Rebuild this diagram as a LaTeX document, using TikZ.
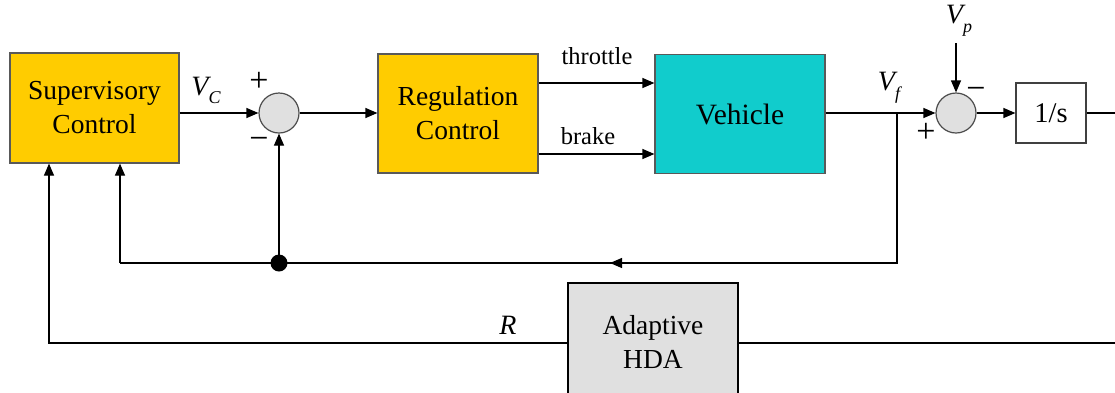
\documentclass[tikz,border=0pt]{standalone}
\usepackage{fontspec}
\setmainfont{Liberation Serif}
\usetikzlibrary{arrows.meta}
\begin{document}
\begin{tikzpicture}[x=1pt,y=-1pt,
  line width=1.2pt,
  sig/.style={-{Triangle[length=12pt,width=10pt]}},
  blk/.style={draw=black!65,inner sep=0pt,align=center,
    font=\fontsize{27.5}{34}\selectfont},
  ctrl/.style={blk,fill=ctrlyellow},
  sumpt/.style={circle,draw=black!70,fill=sumgray,minimum size=40pt,inner sep=0pt},
  lbl/.style={inner sep=0pt,font=\fontsize{24.5}{26}\selectfont},
  sgn/.style={inner sep=0pt,font=\fontsize{34}{34}\selectfont},
  varl/.style={inner sep=0pt,font=\fontsize{28}{28}\selectfont\itshape}
]
\definecolor{ctrlyellow}{HTML}{FFCC00}
\definecolor{vehcyan}{HTML}{11CCCC}
\definecolor{sumgray}{HTML}{E0E0E0}
\clip (0,0) rectangle (1115,392);
\useasboundingbox (0,0) rectangle (1115,392);

% blocks
\node[ctrl,minimum width=169pt,minimum height=110pt] (sup) at (94.5,108) {Supervisory\\Control};
\node[ctrl,minimum width=160pt,minimum height=119pt] (reg) at (458,113.5) {Regulation\\Control};
\node[blk,fill=vehcyan,minimum width=170pt,minimum height=119pt,
      font=\fontsize{29.5}{32}\selectfont] (veh) at (740,114) {Vehicle};
\node[blk,draw=black!75,fill=white,minimum width=70pt,minimum height=60pt,
      font=\fontsize{28.5}{32}\selectfont] (int) at (1051,113) {1/s};
\node[blk,draw=black,fill=sumgray,minimum width=170pt,minimum height=118pt] (hda) at (653,342) {Adaptive\\HDA};

% summing junctions
\node[sumpt] (s1) at (279,113) {};
\node[sumpt] (s2) at (956,113) {};

% branch points and free ends
\coordinate (vfb) at (897,113);
\coordinate (vfc) at (897,263);
\coordinate (fbl) at (120,263);
\coordinate (fbm) at (610,263);
\coordinate (vpin) at (956,43);
\coordinate (out) at (1115,113);
\coordinate (rin) at (1115,343);
\coordinate (rcorner) at (49,343);
\node[circle,fill=black,minimum size=17pt,inner sep=0pt] (dot) at (279,263) {};

% forward path
\draw[sig] (sup.east |- s1) -- (s1.west);
\draw[sig] (s1.east) -- (reg.west |- s1);
\draw[sig] (reg.east |- 0,83) -- (veh.west |- 0,83);
\draw[sig] (reg.east |- 0,154) -- (veh.west |- 0,154);
\draw[sig] (veh.east |- s2) -- (s2.west);
\draw[sig] (vpin) -- (s2.north);
\draw[sig] (s2.east) -- (int.west);
\draw (int.east) -- (out);

% speed feedback loop
\draw (vfb) -- (vfc) -- (fbl);
\draw[sig] (vfc) -- (fbm);
\draw[sig] (fbl) -- (fbl |- sup.south);
\draw[sig] (dot.center) -- (s1.south);

% range path through the adaptive HDA
\draw (rin) -- (hda.east |- rin);
\draw[sig] (hda.west |- rin) -- (rcorner) -- (rcorner |- sup.south);

% labels
\node[lbl] (thr) at (597,56) {throttle};
\node[lbl] (brk) at (588,136) {brake};
\node[varl] (vc) at (206,90) {V\raisebox{-8pt}{\fontsize{18}{18}\selectfont C}};
\node[varl] (vf) at (889,88) {V\raisebox{-9pt}{\fontsize{18}{18}\selectfont f}};
\node[varl] (vp) at (959,21) {V\raisebox{-9pt}{\fontsize{18}{18}\selectfont p}};
\node[varl] (rl) at (508,325) {R};

\node[sgn] (p1) at (259,82) {+};
\node[sgn] (m1) at (259,143) {−};
\node[sgn] (m2) at (976,93) {−};
\node[sgn] (p2) at (926,133) {+};
\end{tikzpicture}
\end{document}
